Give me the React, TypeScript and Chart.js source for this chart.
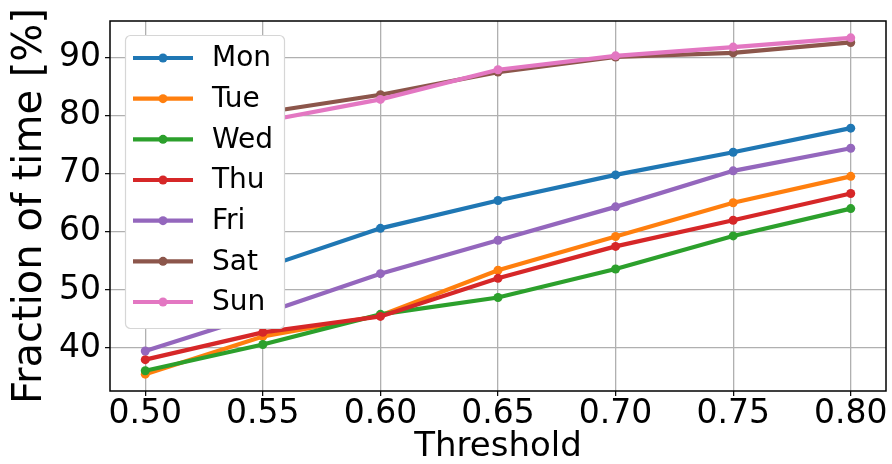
import React, { useEffect, useRef } from "react";
import { Chart, registerables } from "chart.js";

Chart.register(...registerables);

const THRESHOLDS = [0.5, 0.55, 0.6, 0.65, 0.7, 0.75, 0.8];
const X_TICKS = [0.5, 0.55, 0.6, 0.65, 0.7, 0.75, 0.8];
const Y_TICKS = [40, 50, 60, 70, 80, 90];
const DAYS = ["Mon", "Tue", "Wed", "Thu", "Fri", "Sat", "Sun"];

const MON = [47.0, 53.8, 60.6, 65.4, 69.8, 73.7, 77.85];
const TUE = [35.5, 42.0, 45.6, 53.4, 59.2, 65.0, 69.55];
const WED = [36.1, 40.6, 45.8, 48.7, 53.6, 59.3, 64.0];
const THU = [38.0, 42.7, 45.45, 52.0, 57.5, 62.0, 66.6];
const FRI = [39.5, 45.9, 52.8, 58.55, 64.3, 70.5, 74.4];
const SAT = [76.0, 80.5, 83.6, 87.5, 90.1, 90.8, 92.6];
const SUN = [74.5, 79.0, 82.8, 87.9, 90.3, 91.8, 93.4];

const SERIES = [MON, TUE, WED, THU, FRI, SAT, SUN];
const COLORS = ["#1f77b4", "#ff7f0e", "#2ca02c", "#d62728", "#9467bd", "#8c564b", "#e377c2"];

const FONT = '"DejaVu Sans", sans-serif';

function marginRange(values: number[]) {
  const lo = Math.min(...values);
  const hi = Math.max(...values);
  const m = (hi - lo) * 0.05;
  return [lo - m, hi + m];
}

const frameAndLegend = {
  id: "frameAndLegend",
  afterDatasetsDraw(chart: any) {
    const ctx = chart.ctx;
    const a = chart.chartArea;
    ctx.save();
    // axes frame
    ctx.strokeStyle = "#000";
    ctx.lineWidth = 1.5;
    ctx.strokeRect(a.left, a.top, a.right - a.left, a.bottom - a.top);

    // legend box
    const x0 = 125.5, y0 = 35.5, w = 159, h = 293, r = 5;
    ctx.beginPath();
    ctx.roundRect(x0, y0, w, h, r);
    ctx.fillStyle = "#ffffff";
    ctx.fill();
    ctx.strokeStyle = "#d6d6d6";
    ctx.lineWidth = 1.2;
    ctx.stroke();

    chart.data.datasets.forEach((ds: any, i: number) => {
      const cy = 58 + i * 40.67;
      ctx.strokeStyle = ds.borderColor;
      ctx.lineWidth = 4.2;
      ctx.lineCap = "butt";
      ctx.beginPath();
      ctx.moveTo(133, cy);
      ctx.lineTo(193, cy);
      ctx.stroke();
      ctx.fillStyle = ds.borderColor;
      ctx.beginPath();
      ctx.arc(163, cy, 4.5, 0, Math.PI * 2);
      ctx.fill();
      ctx.fillStyle = "#000";
      ctx.font = `28px ${FONT}`;
      ctx.textBaseline = "middle";
      ctx.textAlign = "left";
      ctx.fillText(ds.label, 212, cy + 1);
    });
    ctx.restore();
  },
};

export default function App() {
  const canvasRef = useRef<HTMLCanvasElement | null>(null);

  useEffect(() => {
    document.body.style.margin = "0";
    const canvas = canvasRef.current;
    if (!canvas) return;
    Chart.defaults.font.family = FONT;

    const [xMin, xMax] = marginRange(THRESHOLDS);
    const [yMin, yMax] = marginRange(SERIES.flat());

    const chart = new Chart(canvas, {
      type: "line",
      data: {
        datasets: DAYS.map((day, i) => ({
          label: day,
          data: THRESHOLDS.map((t, j) => ({ x: t, y: SERIES[i][j] })),
          borderColor: COLORS[i],
          backgroundColor: COLORS[i],
          pointBackgroundColor: COLORS[i],
          pointBorderColor: COLORS[i],
          pointBorderWidth: 0,
          pointRadius: 4.5,
          borderWidth: 4.2,
          tension: 0,
          fill: false,
          order: DAYS.length - 1 - i,
        })),
      },
      options: {
        responsive: false,
        animation: false,
        layout: { padding: { top: 21, right: 6, left: 0, bottom: 0 } },
        plugins: { legend: { display: false }, tooltip: { enabled: false } },
        scales: {
          x: {
            type: "linear",
            min: xMin,
            max: xMax,
            afterBuildTicks: (s: any) => {
              s.ticks = X_TICKS.map((v) => ({ value: v }));
            },
            afterFit: (s: any) => {
              s.height = 73;
            },
            ticks: {
              font: { size: 33, lineHeight: 1 },
              color: "#000",
              padding: 2,
              maxRotation: 0,
              autoSkip: false,
              callback: (v: any) => Number(v).toFixed(2),
            },
            grid: { color: "#b0b0b0", lineWidth: 1.3, tickColor: "#000", tickLength: 5, tickWidth: 1.2 },
            border: { display: false },
            title: {
              display: true,
              text: "Threshold",
              color: "#000",
              font: { size: 34, lineHeight: 1 },
              padding: { top: -13, bottom: 0 },
            },
          },
          y: {
            type: "linear",
            min: yMin,
            max: yMax,
            afterBuildTicks: (s: any) => {
              s.ticks = Y_TICKS.map((v) => ({ value: v }));
            },
            afterFit: (s: any) => {
              s.width = 110;
            },
            ticks: {
              font: { size: 33, lineHeight: 1 },
              color: "#000",
              padding: 4,
              autoSkip: false,
              callback: (v: any) => String(v),
            },
            grid: { color: "#b0b0b0", lineWidth: 1.3, tickColor: "#000", tickLength: 5, tickWidth: 1.2 },
            border: { display: false },
            title: {
              display: true,
              text: "Fraction of time [%]",
              color: "#000",
              font: { size: 40, lineHeight: 1 },
              padding: { top: 11, bottom: 0 },
            },
          },
        },
      },
      plugins: [frameAndLegend],
    } as any);

    return () => chart.destroy();
  }, []);

  return (
    <div style={{ width: 892, height: 464, position: "relative" }}>
      <canvas ref={canvasRef} width={892} height={464} style={{ display: "block" }} />
    </div>
  );
}
